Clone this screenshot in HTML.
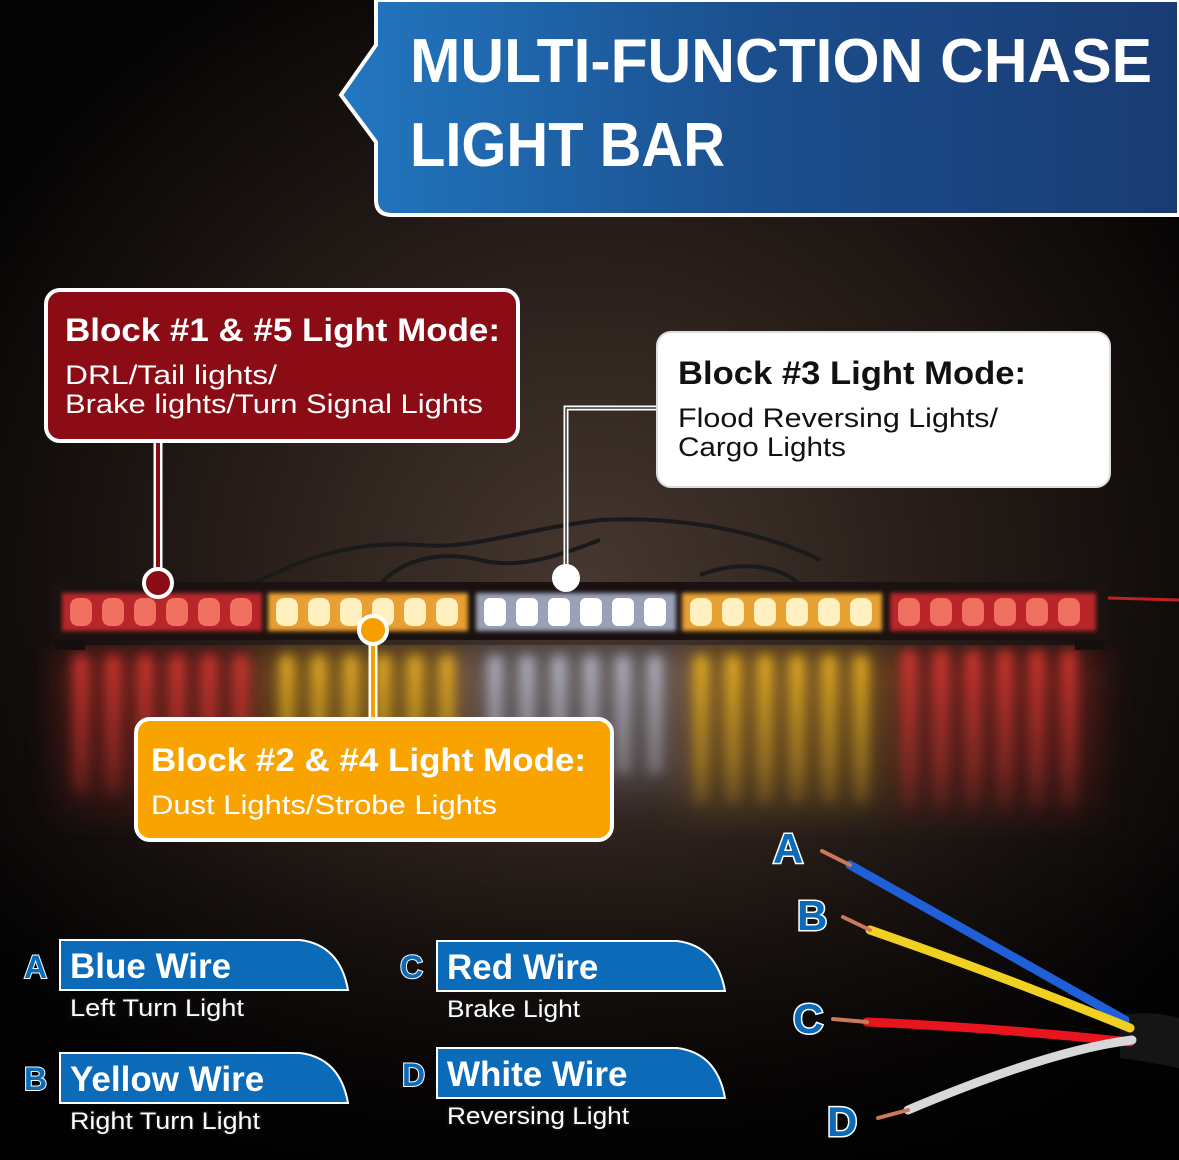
<!DOCTYPE html>
<html><head><meta charset="utf-8"><style>
html,body{margin:0;padding:0;background:#000}
svg{display:block}
text{font-family:"Liberation Sans","DejaVu Sans",sans-serif}
</style></head><body>
<svg width="1179" height="1160" viewBox="0 0 1179 1160" xmlns="http://www.w3.org/2000/svg">
<defs>
<radialGradient id="bg" cx="0.5" cy="0.5" r="0.6">
<stop offset="0" stop-color="#463830"/><stop offset="0.45" stop-color="#2a1f1a"/><stop offset="1" stop-color="#050404"/>
</radialGradient>
<linearGradient id="dark" x1="0" y1="0" x2="0" y2="1"><stop offset="0" stop-color="#000" stop-opacity="0"/><stop offset="1" stop-color="#000" stop-opacity="0.85"/></linearGradient>
<linearGradient id="ban" x1="0" y1="0" x2="1" y2="0"><stop offset="0" stop-color="#2277c0"/><stop offset="0.5" stop-color="#1b4e8d"/><stop offset="1" stop-color="#1a3b72"/></linearGradient>
<linearGradient id="refl" x1="0" y1="0" x2="0" y2="1"><stop offset="0" stop-color="#fff" stop-opacity="0.95"/><stop offset="0.6" stop-color="#fff" stop-opacity="0.5"/><stop offset="1" stop-color="#fff" stop-opacity="0"/></linearGradient>
<mask id="rm"><rect x="0" y="645" width="1179" height="200" fill="url(#refl)"/></mask>
<filter id="bl"><feGaussianBlur stdDeviation="6"/></filter>
<filter id="bl3"><feGaussianBlur stdDeviation="18"/></filter>
<filter id="bl2"><feGaussianBlur stdDeviation="2"/></filter>
</defs>
<rect width="1179" height="1160" fill="url(#bg)"/>
<rect x="0" y="820" width="1179" height="340" fill="url(#dark)"/>
<!-- reflections -->
<g mask="url(#rm)">
<g filter="url(#bl3)" opacity="0.55">
<rect x="62" y="650" width="200" height="180" fill="#c02a28"/>
<rect x="268" y="650" width="200" height="180" fill="#d89a20"/>
<rect x="475" y="650" width="200" height="150" fill="#9a9aa8"/>
<rect x="681" y="650" width="200" height="180" fill="#d89a20"/>
<rect x="890" y="650" width="206" height="190" fill="#c02a28"/>
</g>
<g filter="url(#bl)">
<g fill="#e83a30"><rect x="74" y="655" width="14" height="140" rx="7"/><rect x="106" y="655" width="14" height="140" rx="7"/><rect x="138" y="655" width="14" height="140" rx="7"/><rect x="170" y="655" width="14" height="140" rx="7"/><rect x="202" y="655" width="14" height="140" rx="7"/><rect x="234" y="655" width="14" height="140" rx="7"/></g>
<g fill="#ffc020"><rect x="280" y="655" width="14" height="150" rx="7"/><rect x="312" y="655" width="14" height="150" rx="7"/><rect x="344" y="655" width="14" height="150" rx="7"/><rect x="376" y="655" width="14" height="150" rx="7"/><rect x="408" y="655" width="14" height="150" rx="7"/><rect x="440" y="655" width="14" height="150" rx="7"/></g>
<g fill="#d8dcf0" opacity="0.8"><rect x="488" y="655" width="14" height="120" rx="7"/><rect x="520" y="655" width="14" height="120" rx="7"/><rect x="552" y="655" width="14" height="120" rx="7"/><rect x="584" y="655" width="14" height="120" rx="7"/><rect x="616" y="655" width="14" height="120" rx="7"/><rect x="648" y="655" width="14" height="120" rx="7"/></g>
<g fill="#ffc020"><rect x="694" y="655" width="14" height="150" rx="7"/><rect x="726" y="655" width="14" height="150" rx="7"/><rect x="758" y="655" width="14" height="150" rx="7"/><rect x="790" y="655" width="14" height="150" rx="7"/><rect x="822" y="655" width="14" height="150" rx="7"/><rect x="854" y="655" width="14" height="150" rx="7"/></g>
<g fill="#e83a30"><rect x="902" y="650" width="14" height="160" rx="7"/><rect x="934" y="650" width="14" height="160" rx="7"/><rect x="966" y="650" width="14" height="160" rx="7"/><rect x="998" y="650" width="14" height="160" rx="7"/><rect x="1030" y="650" width="14" height="160" rx="7"/><rect x="1062" y="650" width="14" height="160" rx="7"/></g>
</g>
</g>
<!-- wires behind bar -->
<g fill="none" stroke="#1a1a1a" stroke-width="4">
<path d="M250 585 C300 560 350 540 420 545 C470 550 520 530 600 520 C700 515 780 540 820 560"/>
<path d="M380 585 C400 560 440 550 480 560 C520 570 560 555 600 540"/>
<path d="M700 575 C740 560 780 565 800 585"/>
</g>
<!-- light bar -->
<rect x="52" y="582" width="1056" height="58" rx="3" fill="#1a1210"/>
<rect x="55" y="640" width="30" height="10" fill="#140e0c"/><rect x="1075" y="640" width="30" height="10" fill="#140e0c"/>
<g filter="url(#bl2)">
<rect x="62" y="593" width="200" height="38" fill="#b8252a"/>
<rect x="268" y="593" width="200" height="38" fill="#e8a030"/>
<rect x="476" y="593" width="200" height="38" fill="#9aa0b8"/>
<rect x="682" y="593" width="200" height="38" fill="#e8a030"/>
<rect x="890" y="593" width="206" height="38" fill="#b8252a"/>
</g>
<g>
<g fill="#f07060"><rect x="70" y="598" width="22" height="28" rx="8"/><rect x="102" y="598" width="22" height="28" rx="8"/><rect x="134" y="598" width="22" height="28" rx="8"/><rect x="166" y="598" width="22" height="28" rx="8"/><rect x="198" y="598" width="22" height="28" rx="8"/><rect x="230" y="598" width="22" height="28" rx="8"/></g>
<g fill="#fff0c0"><rect x="276" y="598" width="22" height="28" rx="8"/><rect x="308" y="598" width="22" height="28" rx="8"/><rect x="340" y="598" width="22" height="28" rx="8"/><rect x="372" y="598" width="22" height="28" rx="8"/><rect x="404" y="598" width="22" height="28" rx="8"/><rect x="436" y="598" width="22" height="28" rx="8"/></g>
<g fill="#ffffff"><rect x="484" y="598" width="22" height="28" rx="6"/><rect x="516" y="598" width="22" height="28" rx="6"/><rect x="548" y="598" width="22" height="28" rx="6"/><rect x="580" y="598" width="22" height="28" rx="6"/><rect x="612" y="598" width="22" height="28" rx="6"/><rect x="644" y="598" width="22" height="28" rx="6"/></g>
<g fill="#fff0c0"><rect x="690" y="598" width="22" height="28" rx="8"/><rect x="722" y="598" width="22" height="28" rx="8"/><rect x="754" y="598" width="22" height="28" rx="8"/><rect x="786" y="598" width="22" height="28" rx="8"/><rect x="818" y="598" width="22" height="28" rx="8"/><rect x="850" y="598" width="22" height="28" rx="8"/></g>
<g fill="#f07060"><rect x="898" y="598" width="22" height="28" rx="8"/><rect x="930" y="598" width="22" height="28" rx="8"/><rect x="962" y="598" width="22" height="28" rx="8"/><rect x="994" y="598" width="22" height="28" rx="8"/><rect x="1026" y="598" width="22" height="28" rx="8"/><rect x="1058" y="598" width="22" height="28" rx="8"/></g>
</g>
<line x1="1108" y1="598" x2="1179" y2="600" stroke="#c02020" stroke-width="3"/>
<!-- banner -->
<path d="M376 0 L376 45 L341 95 L376 142 L376 200 Q376 215 392 215 L1179 215 L1179 0 Z" fill="url(#ban)" stroke="#fff" stroke-width="4"/>
<text x="410" y="82" font-size="62" font-weight="bold" fill="#fff" textLength="742" lengthAdjust="spacingAndGlyphs">MULTI-FUNCTION CHASE</text>
<text x="410" y="166" font-size="62" font-weight="bold" fill="#fff" textLength="315" lengthAdjust="spacingAndGlyphs">LIGHT BAR</text>
<!-- red callout -->
<line x1="158" y1="441" x2="158" y2="583" stroke="#fff" stroke-width="9"/>
<line x1="158" y1="441" x2="158" y2="583" stroke="#8b0c14" stroke-width="4"/>
<circle cx="158" cy="583" r="14" fill="#8b0c14" stroke="#fff" stroke-width="4"/>
<rect x="46" y="290" width="472" height="151" rx="14" fill="#8b0c14" stroke="#fff" stroke-width="4"/>
<text x="65" y="341" font-size="32" font-weight="bold" fill="#fff" textLength="435" lengthAdjust="spacingAndGlyphs">Block #1 &amp; #5 Light Mode:</text>
<text x="65" y="384" font-size="27" fill="#fff" textLength="212" lengthAdjust="spacingAndGlyphs">DRL/Tail lights/</text>
<text x="65" y="413" font-size="27" fill="#fff" textLength="418" lengthAdjust="spacingAndGlyphs">Brake lights/Turn Signal Lights</text>
<!-- white callout -->
<path d="M566 578 L566 408 L660 408" fill="none" stroke="#fff" stroke-width="5"/>
<path d="M566 578 L566 408 L660 408" fill="none" stroke="#333" stroke-width="1.5"/>
<circle cx="566" cy="578" r="13" fill="#fff" stroke="#fff" stroke-width="2"/>
<rect x="657" y="332" width="453" height="155" rx="14" fill="#fff" stroke="#ddd" stroke-width="2"/>
<text x="678" y="384" font-size="32" font-weight="bold" fill="#111" textLength="348" lengthAdjust="spacingAndGlyphs">Block #3 Light Mode:</text>
<text x="678" y="427" font-size="27" fill="#111" textLength="320" lengthAdjust="spacingAndGlyphs">Flood Reversing Lights/</text>
<text x="678" y="456" font-size="27" fill="#111" textLength="168" lengthAdjust="spacingAndGlyphs">Cargo Lights</text>
<!-- orange callout -->
<line x1="373" y1="630" x2="373" y2="720" stroke="#fff" stroke-width="9"/>
<line x1="373" y1="630" x2="373" y2="720" stroke="#f5a000" stroke-width="4"/>
<circle cx="373" cy="630" r="14" fill="#f5a000" stroke="#fff" stroke-width="4"/>
<rect x="136" y="719" width="476" height="121" rx="14" fill="#f8a300" stroke="#fff" stroke-width="4"/>
<text x="151" y="771" font-size="32" font-weight="bold" fill="#fff" textLength="435" lengthAdjust="spacingAndGlyphs">Block #2 &amp; #4 Light Mode:</text>
<text x="151" y="814" font-size="27" fill="#fff" textLength="346" lengthAdjust="spacingAndGlyphs">Dust Lights/Strobe Lights</text>
<!-- tabs -->
<g stroke="#fff" stroke-width="2" fill="#0b6bb8">
<path d="M60 990 L60 940 L300 940 Q340 945 348 990 Z"/>
<path d="M60 1103 L60 1053 L300 1053 Q340 1058 348 1103 Z"/>
<path d="M437 991 L437 941 L677 941 Q717 946 725 991 Z"/>
<path d="M437 1098 L437 1048 L677 1048 Q717 1053 725 1098 Z"/>
</g>
<g font-weight="bold" fill="#fff">
<text x="70" y="978" font-size="35">Blue Wire</text>
<text x="70" y="1091" font-size="35">Yellow Wire</text>
<text x="447" y="979" font-size="35">Red Wire</text>
<text x="447" y="1086" font-size="35">White Wire</text>
</g>
<g font-weight="bold" fill="#0b6bb8" stroke="#fff" stroke-width="2" paint-order="stroke" font-size="32">
<text x="24" y="978">A</text><text x="24" y="1090">B</text><text x="400" y="978">C</text><text x="402" y="1086">D</text>
</g>
<g fill="#fff" stroke="#111" stroke-width="3" paint-order="stroke" font-size="24">
<text x="70" y="1016" textLength="174" lengthAdjust="spacingAndGlyphs">Left Turn Light</text>
<text x="70" y="1129" textLength="190" lengthAdjust="spacingAndGlyphs">Right Turn Light</text>
<text x="447" y="1017" textLength="133" lengthAdjust="spacingAndGlyphs">Brake Light</text>
<text x="447" y="1124" textLength="182" lengthAdjust="spacingAndGlyphs">Reversing Light</text>
</g>
<!-- wires -->
<path d="M1120 1015 Q1150 1010 1179 1018 L1179 1068 Q1150 1062 1120 1058 Z" fill="#151515"/>
<g fill="none" stroke-linecap="round">
<path d="M850 865 Q1000 950 1125 1020" stroke="#1f5fd8" stroke-width="9"/>
<path d="M870 930 Q1000 975 1130 1028" stroke="#f0d020" stroke-width="9"/>
<path d="M867 1022 Q1000 1028 1130 1042" stroke="#e8141e" stroke-width="9"/>
<path d="M908 1110 Q1050 1050 1132 1040" stroke="#d8d8d8" stroke-width="9"/>
<g stroke="#c87a5a" stroke-width="4">
<line x1="822" y1="851" x2="850" y2="865"/><line x1="843" y1="917" x2="870" y2="930"/><line x1="833" y1="1019" x2="867" y2="1022"/><line x1="878" y1="1118" x2="908" y2="1110"/>
</g>
</g>
<g font-weight="bold" fill="#0b6bb8" stroke="#fff" stroke-width="3" paint-order="stroke" font-size="42">
<text x="773" y="863">A</text><text x="797" y="930">B</text><text x="793" y="1033">C</text><text x="827" y="1136">D</text>
</g>
</svg>
</body></html>
